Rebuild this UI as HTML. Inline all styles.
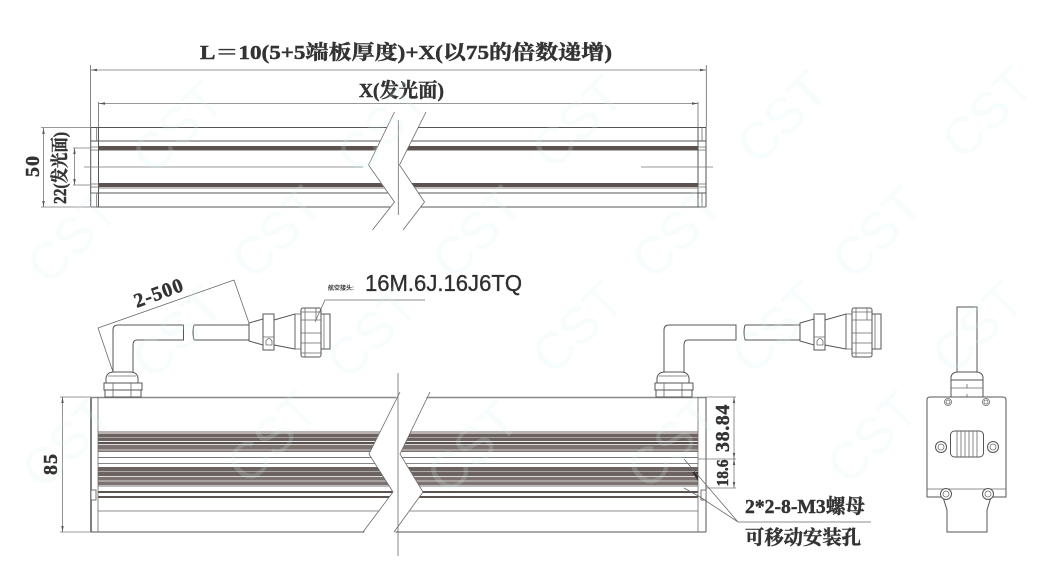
<!DOCTYPE html>
<html><head><meta charset="utf-8">
<style>
html,body{margin:0;padding:0;background:#fff;width:1057px;height:573px;overflow:hidden}
svg{display:block}
.l{stroke:#555;stroke-width:1;fill:none}
.t{stroke:#6a6a6a;stroke-width:.8;fill:none}
.d{stroke:#777;stroke-width:.8;fill:none}
.s{font-family:"Liberation Serif","Noto Serif CJK SC",serif;font-weight:700;fill:#333;stroke:#333;stroke-width:.45}
.w{font-family:"Liberation Sans",sans-serif;font-size:52px;fill:#d8eeee;fill-opacity:.2;text-anchor:middle}
.a{fill:#555}
</style></head><body>
<svg width="1057" height="573" viewBox="0 0 1057 573" xmlns="http://www.w3.org/2000/svg">
<rect width="1057" height="573" fill="#fff"/>

<!-- TOP VIEW -->
<g>
<rect x="98" y="146" width="600" height="4" fill="#5c5250"/>
<rect x="98" y="150" width="600" height="1" fill="#b5b0ae"/>
<rect x="98" y="183" width="600" height="4" fill="#5c5250"/>
<rect x="98" y="187" width="600" height="2" fill="#c4c0be"/>
<path class="l" d="M91 127.500H706M91 141H706M91 207H706M91 193H706"/>
<path class="l" d="M90.700 127V207M98.500 127V207M706 127V207M698 127V207"/>
<path class="t" d="M96.700 127.500V141M96.700 193V207M702 127.500V141M702 193V207M91 147H98M91 150H98M91 184H98M91 187H98M698 147H706M698 150H706M698 184H706M698 187H706"/>
<polygon fill="#fff" points="394,112 368,165 394,202 372,230 403,230 424,202 399,165 426,112"/>
<path class="t" d="M394.500 112L368.500 165L394.500 202L372.500 230M426 112L399.500 165L424.500 202L403 230M398.300 120V215"/>
<path class="d" d="M84 167H363M641 167H713"/>
<!-- dims top -->
<path class="t" d="M90.500 65V127M706.300 65V127M98.500 102V127M698 102V127"/>
<path class="d" d="M91 70H706M99 103.500H698"/>
<path class="a" d="M91 70l6-1.200v2.400zM706 70l-6-1.200v2.400zM99 103.500l6-1.200v2.400zM698 103.500l-6-1.200v2.400z"/>
<path class="d" d="M41 127.500H91M41 207H91M73 148H91M73 185H91M43.500 128V207M74.500 148V185"/>
<path class="a" d="M43.500 128l-1.200 6h2.400zM43.500 207l-1.200-6h2.400zM74.500 148l-1.200 6h2.400zM74.500 185l-1.200-6h2.400z"/>
</g>

<text class="s" x="200" y="59" font-size="20" textLength="412" lengthAdjust="spacingAndGlyphs">L＝10(5+5端板厚度)+X(以75的倍数递增)</text>
<text class="s" x="359" y="97" font-size="20" textLength="85" lengthAdjust="spacingAndGlyphs">X(发光面)</text>
<text class="s" font-size="20" text-anchor="middle" transform="translate(39,166) rotate(-90)" letter-spacing="1">50</text>
<text class="s" font-size="18" text-anchor="middle" transform="translate(66,168) rotate(-90)" textLength="72" lengthAdjust="spacingAndGlyphs">22(发光面)</text>

<!-- FRONT VIEW -->
<g>
<rect x="98" y="431" width="600" height="3" fill="#b8b2b0"/>
<rect x="98" y="434" width="600" height="3" fill="#6c6260"/>
<rect x="98" y="437" width="600" height="1" fill="#aaa4a2"/>
<rect x="98" y="438" width="600" height="3" fill="#6c6260"/>
<rect x="98" y="441" width="600" height="1" fill="#eee"/>
<rect x="98" y="442" width="600" height="2" fill="#5a5250"/>
<rect x="98" y="444" width="600" height="1" fill="#ddd"/>
<rect x="98" y="445" width="600" height="4" fill="#7c7270"/>
<rect x="98" y="449" width="600" height="2" fill="#a8a2a0"/>
<rect x="98" y="451" width="600" height="1" fill="#7c7270"/>
<rect x="98" y="457" width="600" height="1" fill="#777"/>
<rect x="98" y="463" width="600" height="1" fill="#888"/>
<rect x="98" y="467" width="600" height="4" fill="#6c6260"/>
<rect x="98" y="471" width="600" height="1" fill="#aaa"/>
<rect x="98" y="472" width="600" height="4" fill="#6c6260"/>
<rect x="98" y="476" width="600" height="1" fill="#ddd"/>
<rect x="98" y="477" width="600" height="3" fill="#7c7270"/>
<rect x="98" y="480" width="600" height="2" fill="#a8a2a0"/>
<rect x="98" y="482" width="600" height="3" fill="#7c7270"/>
<rect x="98" y="485" width="600" height="2" fill="#bbb"/>
<rect x="98" y="491" width="600" height="2" fill="#5c5250"/>
<rect x="98" y="496" width="600" height="2" fill="#5c5250"/>
<path d="M91 397.500H706" stroke="#888" stroke-width="1.500"/>
<path class="l" d="M91 532H706"/>
<path class="t" d="M98 511H698"/>
<path class="l" d="M706 397V532"/>
<path d="M91 397V532" stroke="#555" stroke-width="1.500"/>
<path class="t" d="M98 397V532M698 397V532"/>
<polygon fill="#fff" points="400,390 369,454 393,492 363,534 394,534 423,492 400,454 430,390"/>
<path class="t" d="M400 392L369 454L393 492L363 532M430 392L400 454L423 492L394 532M398 373V556"/>
<rect x="91" y="490" width="5" height="10" fill="#fff" stroke="#555" stroke-width=".8"/>
<rect x="701" y="490" width="5" height="10" fill="#fff" stroke="#555" stroke-width=".8"/>
<path d="M692 472L698 472V481Z" fill="#333"/>
</g>

<!-- left cable -->
<g>
<path class="l" d="M113 372V330Q113 325 118 325H183.500V340H137Q133 340 133 345V372"/>
<path class="l" d="M194 325H249M194 340H249M194 325Q192 332 194 340"/>
<path class="l" d="M249 323L263 319V345L249 341Z"/>
<rect class="l" x="263" y="314" width="11" height="36"/>
<path class="t" d="M263 337H274M266 345V341Q269 336 272 341V345H266"/>
<path class="l" d="M274 320L295 314V349L274 345"/>
<rect class="t" x="295" y="314" width="6" height="35"/>
<rect class="l" x="301" y="308" width="20" height="49" rx="2"/>
<path class="t" d="M301 312H321M301 320H321M301 333H321M301 343H321M301 353H321"/>
<path class="t" d="M305 308V357M316 308V320"/>
<path class="l" d="M321 314H330V349H321"/>
<path class="t" d="M324 314V349"/>
</g>
<!-- gland -->
<g>
<path class="l" d="M106 383V378Q107 372 114 372H130Q137 372 138 378V383"/>
<path class="t" d="M108 376H136"/>
<rect class="l" x="104" y="383" width="38" height="7"/>
<path class="t" d="M113 383V397M131 383V397"/>
<rect class="l" x="105" y="390" width="36" height="7"/>
</g>
<path class="t" d="M98 328L234 280M98 328L113 372M234 280L249 323"/>
<text class="s" font-size="20" text-anchor="middle" transform="translate(161,299) rotate(-20)" letter-spacing="1">2-500</text>

<text x="328" y="290" font-size="6" font-weight="700" fill="#333" font-family="'Liberation Sans','Noto Sans CJK SC',sans-serif">航空接头:</text>
<text x="365" y="291" font-size="23" fill="#2f2f2f" stroke="#2f2f2f" stroke-width=".35" font-family="'Liberation Sans',sans-serif" textLength="157" lengthAdjust="spacingAndGlyphs">16M.6J.16J6TQ</text>
<path class="t" d="M315 322L325 300H425"/>

<!-- right cable -->
<g transform="translate(551,0)">
<path class="l" d="M113 372V330Q113 325 118 325H185V340H137Q133 340 133 345V372"/>
<path class="l" d="M194 325H249M194 340H249M194 325Q192 332 194 340"/>
<path class="l" d="M249 323L263 319V345L249 341Z"/>
<rect class="l" x="263" y="314" width="11" height="36"/>
<path class="t" d="M263 337H274M266 345V341Q269 336 272 341V345H266"/>
<path class="l" d="M274 320L295 314V349L274 345"/>
<rect class="t" x="295" y="314" width="6" height="35"/>
<rect class="l" x="301" y="308" width="20" height="49" rx="2"/>
<path class="t" d="M301 312H321M301 320H321M301 333H321M301 343H321M301 353H321"/>
<path class="t" d="M305 308V357M316 308V320"/>
<path class="l" d="M321 314H330V349H321"/>
<path class="t" d="M324 314V349"/>
<path class="l" d="M106 383V378Q107 372 114 372H130Q137 372 138 378V383"/>
<path class="t" d="M108 376H136"/>
<rect class="l" x="104" y="383" width="38" height="7"/>
<path class="t" d="M113 383V397M131 383V397"/>
<rect class="l" x="105" y="390" width="36" height="7"/>
</g>

<!-- front dims -->
<path class="d" d="M60 397H91M60 532H91M62.500 397V532"/>
<path class="a" d="M62.500 397l-1.200 6h2.400zM62.500 532l-1.200-6h2.400z"/>
<text class="s" font-size="20" text-anchor="middle" transform="translate(57,464) rotate(-90)" letter-spacing="1">85</text>
<path class="d" d="M706 397H736M698 459H736M706 488H736M734 397V488"/>
<path class="a" d="M734 397l-1.200 6h2.400zM734 459l-1.200-6h2.400zM734 459l-1.200 6h2.400zM734 488l-1.200-6h2.400z"/>
<text class="s" font-size="20" text-anchor="middle" transform="translate(729,428) rotate(-90)" letter-spacing=".6">38.84</text>
<text class="s" font-size="17" text-anchor="middle" transform="translate(728,473) rotate(-90)" textLength="27" lengthAdjust="spacingAndGlyphs">18.6</text>
<path class="t" d="M684 459L738 522M684 488L700 497L738 522H871"/>
<text class="s" x="745" y="513" font-size="20" textLength="120" lengthAdjust="spacingAndGlyphs">2*2-8-M3螺母</text>
<text class="s" x="745" y="544" font-size="19.500" textLength="116" lengthAdjust="spacingAndGlyphs">可移动安装孔</text>

<!-- END VIEW -->
<g>
<path class="l" d="M957 372V307H977V372"/>
<path class="l" d="M951 380V377Q952 372 958 372H976Q982 372 983 377V380"/>
<path class="l" d="M951 380H983V397M951 380V397"/>
<path class="t" d="M951 388H983M967 384V388M967 394V397"/>
<path class="l" d="M930 397H1003Q1006 397 1006 400V497H991L987 510V532H947V510L943 497H927V400Q927 397 930 397Z"/>
<path class="t" d="M927 489H1006"/>
<circle class="t" cx="948" cy="402" r="3.500"/><circle class="t" cx="948" cy="402" r="2"/>
<circle class="t" cx="986" cy="402" r="3.500"/><circle class="t" cx="986" cy="402" r="2"/>
<circle class="l" cx="941" cy="447" r="5.500"/><circle class="t" cx="941" cy="447" r="3"/>
<circle class="l" cx="993" cy="447" r="5.500"/><circle class="t" cx="993" cy="447" r="3"/>
<circle cx="946" cy="494" r="5.500" fill="#fff" stroke="#555"/><circle class="t" cx="946" cy="494" r="3"/>
<circle cx="988" cy="494" r="5.500" fill="#fff" stroke="#555"/><circle class="t" cx="988" cy="494" r="3"/>
<rect class="l" x="950.500" y="431" width="33" height="26" rx="4"/>
<path class="t" d="M957 431V457M961 431V457M965 431V457M969 431V457M973 431V457M977 431V457"/>
</g>

<!-- watermark -->
<g>
<text class="w" transform="translate(190,140) rotate(-45)">CST</text>
<text class="w" transform="translate(395,140) rotate(-45)">CST</text>
<text class="w" transform="translate(590,135) rotate(-45)">CST</text>
<text class="w" transform="translate(795,130) rotate(-45)">CST</text>
<text class="w" transform="translate(1000,125) rotate(-45)">CST</text>
<text class="w" transform="translate(85,250) rotate(-45)">CST</text>
<text class="w" transform="translate(290,245) rotate(-45)">CST</text>
<text class="w" transform="translate(490,245) rotate(-45)">CST</text>
<text class="w" transform="translate(690,245) rotate(-45)">CST</text>
<text class="w" transform="translate(890,245) rotate(-45)">CST</text>
<text class="w" transform="translate(190,345) rotate(-45)">CST</text>
<text class="w" transform="translate(385,345) rotate(-45)">CST</text>
<text class="w" transform="translate(590,340) rotate(-45)">CST</text>
<text class="w" transform="translate(790,340) rotate(-45)">CST</text>
<text class="w" transform="translate(990,340) rotate(-45)">CST</text>
<text class="w" transform="translate(80,455) rotate(-45)">CST</text>
<text class="w" transform="translate(285,450) rotate(-45)">CST</text>
<text class="w" transform="translate(485,460) rotate(-45)">CST</text>
<text class="w" transform="translate(685,455) rotate(-45)">CST</text>
<text class="w" transform="translate(885,450) rotate(-45)">CST</text>
</g>
</svg>
</body></html>
